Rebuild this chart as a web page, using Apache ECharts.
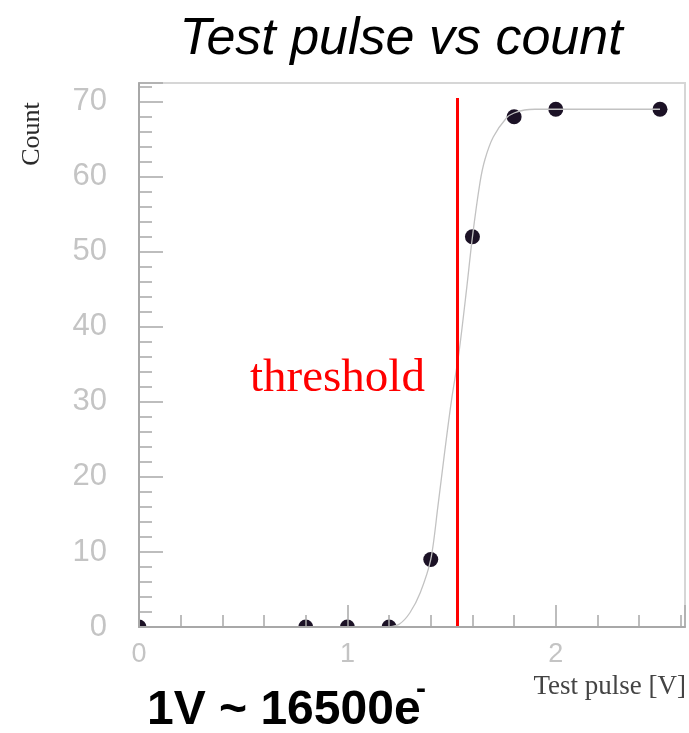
<!DOCTYPE html>
<html>
<head>
<meta charset="utf-8">
<title>Test pulse vs count</title>
<script src="https://cdn.jsdelivr.net/npm/echarts@6/dist/echarts.min.js"></script>
<style>
	html, body { margin: 0; padding: 0; background: #fff; }
	#chart { width: 689px; height: 733px; }
</style>
</head>
<body>
<div id="chart"></div>
<script>
	'use strict';
	// measured points
	var pulseV = [0, 0.8, 1.0, 1.2, 1.4, 1.6, 1.8, 2.0, 2.5];
	var counts = [0, 0, 0, 0, 9, 52, 68, 69, 69];
	// fit curve
	var fitV = [1.2, 1.25, 1.3, 1.35, 1.4, 1.434, 1.468, 1.5, 1.535, 1.573, 1.6, 1.636, 1.66, 1.7, 1.765, 1.8, 1.85, 1.9, 2.0, 2.5];
	var fitCount = [0, 0.4, 1.9, 4.6, 9, 16, 23.6, 30.3, 36.5, 45.3, 52, 59.2, 62.3, 65.3, 67.9, 68.5, 68.9, 69, 69, 69];
	// threshold marker
	var thresholdV = 1.525;
	var thresholdTop = 70.5;
	var xTicks = [0, 1, 2];
	var yTicks = [0, 10, 20, 30, 40, 50, 60, 70];

	function pairs(xs, ys) {
		var list = [];
		for (var i = 0; i < xs.length; i++) {
			list.push([xs[i], ys[i]]);
		}
		return list;
	}

	var axisGray = '#a8a8a8';
	var labelGray = '#c4c4c4';

	var chart = echarts.init(document.getElementById('chart'));
	var option = {
		animation: false,
		grid: {
			left: 139,
			right: 4,
			top: 83,
			bottom: 106,
			show: true,
			borderColor: '#d6d6d6',
			borderWidth: 2
		},
		xAxis: [
			{
				type: 'value',
				min: 0,
				max: 2.62,
				interval: 1,
				z: 5,
				splitLine: { show: false },
				axisLine: { lineStyle: { color: axisGray, width: 2 } },
				axisTick: { inside: true, length: 22, lineStyle: { color: axisGray, width: 1.5 } },
				axisLabel: {
					customValues: xTicks,
					margin: 14,
					color: labelGray,
					fontFamily: 'Liberation Sans',
					fontSize: 27
				}
			},
			{
				// minor ticks
				type: 'value',
				min: 0,
				max: 2.62,
				interval: 0.2,
				position: 'bottom',
				z: 5,
				splitLine: { show: false },
				axisLine: { show: false },
				axisTick: { inside: true, length: 12, lineStyle: { color: axisGray, width: 1.5 } },
				axisLabel: { show: false }
			}
		],
		yAxis: [
			{
				type: 'value',
				min: 0,
				max: 72.5,
				interval: 10,
				z: 5,
				splitLine: { show: false },
				axisLine: { lineStyle: { color: axisGray, width: 2 } },
				axisTick: { inside: true, length: 24, lineStyle: { color: axisGray, width: 1.5 } },
				axisLabel: {
					customValues: yTicks,
					margin: 32,
					color: labelGray,
					fontFamily: 'Liberation Sans',
					fontSize: 31
				}
			},
			{
				type: 'value',
				min: 0,
				max: 72.5,
				interval: 2,
				position: 'left',
				z: 5,
				splitLine: { show: false },
				axisLine: { show: false },
				axisTick: { inside: true, length: 13, lineStyle: { color: axisGray, width: 1.5 } },
				axisLabel: { show: false }
			}
		],
		graphic: [
			{
				type: 'text', z: 6, x: 401, y: 40,
				style: { text: 'Test pulse vs count', fill: '#000', font: 'italic 52px "Liberation Sans"', textAlign: 'center', textVerticalAlign: 'middle' }
			},
			{
				type: 'text', z: 6, x: 250, y: 379,
				style: { text: 'threshold', fill: '#ff0000', font: '47px "Liberation Serif"', textAlign: 'left', textVerticalAlign: 'middle' }
			},
			{
				type: 'text', z: 6, x: 32, y: 134, rotation: Math.PI / 2,
				style: { text: 'Count', fill: '#2a2a2a', font: '26px "Liberation Serif"', textAlign: 'center', textVerticalAlign: 'middle' }
			},
			{
				type: 'text', z: 6, x: 686, y: 687,
				style: { text: 'Test pulse [V]', fill: '#444', font: '27px "Liberation Serif"', textAlign: 'right', textVerticalAlign: 'middle' }
			},
			{
				type: 'text', z: 6, x: 147, y: 711,
				style: { text: '1V ~ 16500e', fill: '#000', font: 'bold 48px "Liberation Sans"', textAlign: 'left', textVerticalAlign: 'middle' }
			},
			{
				type: 'text', z: 6, x: 416, y: 690,
				style: { text: '-', fill: '#000', font: 'bold 30px "Liberation Sans"', textAlign: 'left', textVerticalAlign: 'middle' }
			}
		],
		series: [
			{
				name: 'fit',
				type: 'line',
				xAxisIndex: 0,
				yAxisIndex: 0,
				smooth: 0.3,
				symbol: 'none',
				silent: true,
				lineStyle: { color: '#c2c2c2', width: 1.3 },
				data: pairs(fitV, fitCount),
				markLine: {
					silent: true,
					symbol: 'none',
					label: { show: false },
					lineStyle: { color: '#ff0000', width: 3, type: 'solid' },
					data: [[{ coord: [thresholdV, 0] }, { coord: [thresholdV, thresholdTop] }]]
				}
			},
			{
				// markers, clipped at the frame like the original
				name: 'count',
				type: 'custom',
				xAxisIndex: 0,
				yAxisIndex: 0,
				clip: true,
				encode: { x: 0, y: 1 },
				data: pairs(pulseV, counts),
				renderItem: function (params, api) {
					var p = api.coord([api.value(0), api.value(1)]);
					return {
						type: 'circle',
						shape: { cx: p[0], cy: p[1], r: 7.5 },
						style: { fill: '#1c1226' }
					};
				}
			}
		]
	};
	chart.setOption(option);
</script>
</body>
</html>
